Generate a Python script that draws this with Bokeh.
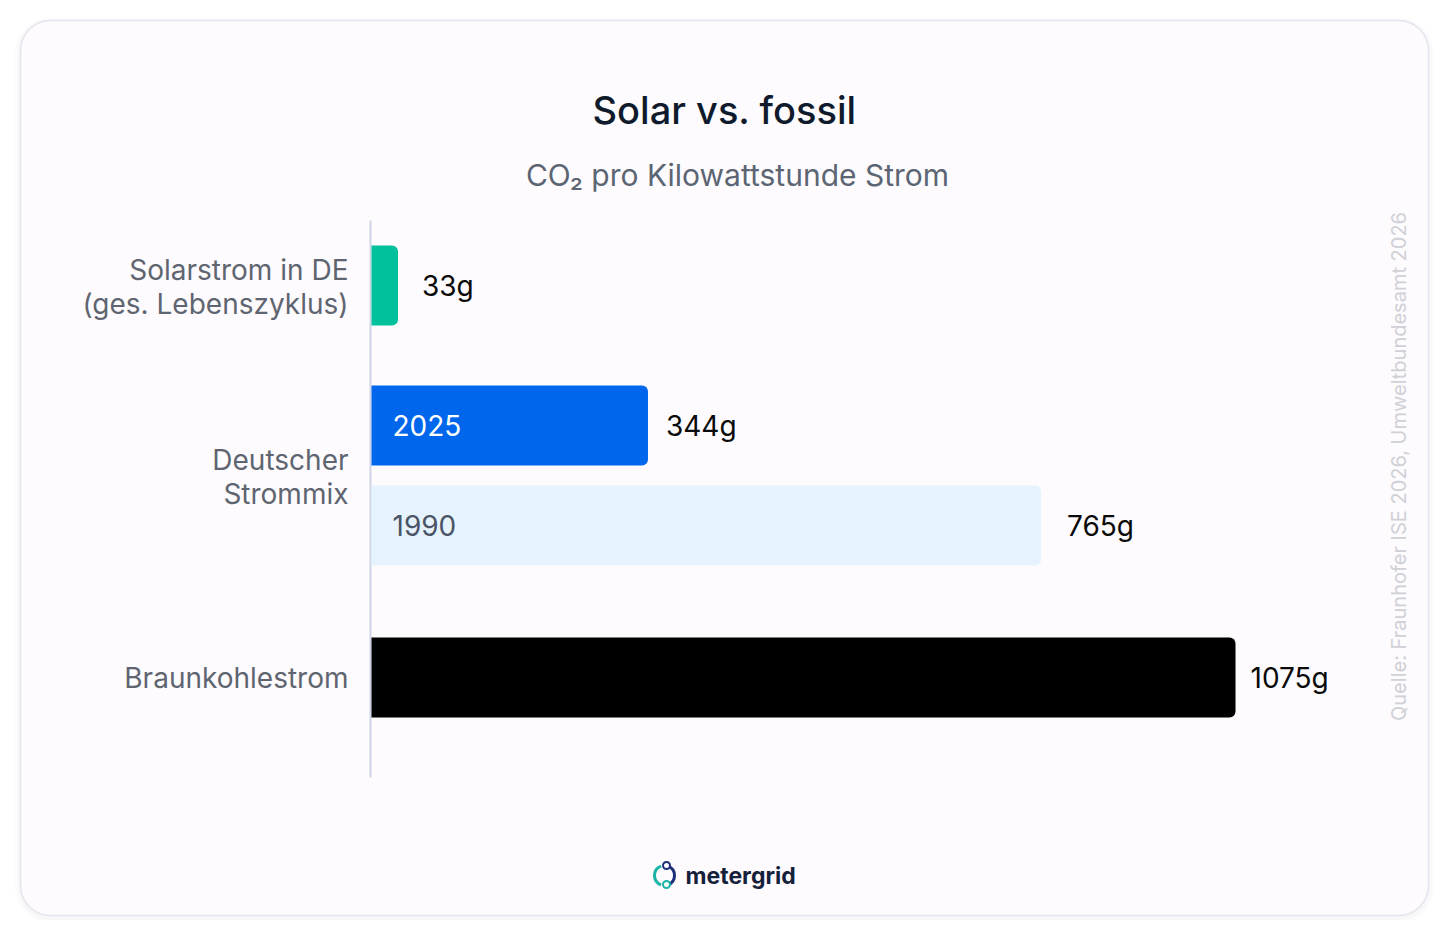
import math
from bokeh.plotting import figure
from bokeh.models import Range1d, ColumnDataSource
from bokeh.core.properties import value
from bokeh.embed import file_html
from bokeh.resources import INLINE

# ---------------- data ----------------
categories = ["Solarstrom in DE\n(ges. Lebenszyklus)", "Deutscher\nStrommix", "Braunkohlestrom"]
bar_names = ["Solarstrom", "2025", "1990", "Braunkohle"]
co2_values = [33, 344, 765, 1075]          # g CO2 per kWh (labels)
bar_lengths = [33, 344, 833, 1075]         # bar lengths as drawn in the picture
value_labels = ["33g", "344g", "765g", "1075g"]
inner_labels = ["", "2025", "1990", ""]
title = "Solar vs. fossil"
subtitle = "CO\u2082 pro Kilowattstunde Strom"
source_text = "Quelle: Fraunhofer ISE 2026, Umweltbundesamt 2026"
brand = "metergrid"

# ---------------- layout / style ----------------
W, H = 1433, 920
FONT = "Inter"
ZERO_PX = 371            # canvas x of value 0
PX_PER_G = 864 / 1075    # horizontal scale
ROW_Y = [285, 425, 525, 677]   # canvas y of bar centres
LABEL_GAP = [24, 18, 26, 15]   # px gap between bar end and value label
BAR_H = 80
bar_colors = ["#00c19b", "#0066eb", "#e6f3fe", "#000000"]
inner_colors = ["#ffffff", "#ffffff", "#4a5466", "#ffffff"]

x_start = -ZERO_PX / PX_PER_G
x_end = (W - ZERO_PX) / PX_PER_G

p = figure(width=W, height=H, x_range=Range1d(x_start, x_end), y_range=Range1d(H, 0),
           output_backend="svg", toolbar_location=None, min_border=0,
           x_axis_type=None, y_axis_type=None,
           background_fill_color="#ffffff", border_fill_color="#ffffff",
           outline_line_color=None)
p.grid.visible = False
p.extra_x_ranges = {"px": Range1d(0, W)}

# card shadow + card
for i, a in enumerate([0.025, 0.02, 0.015]):
    d = 2 * (i + 1)
    p.quad(left=20 - d, right=1428 + d, top=20 - d + 2, bottom=915 + d + 2,
           fill_color="#7a7090", fill_alpha=a, line_color=None,
           border_radius=30 + d, x_range_name="px")
p.quad(left=20, right=1428, top=20, bottom=915, fill_color="#fdfbfd",
       line_color="#e6e3ee", line_width=1.5, border_radius=30, x_range_name="px")

# titles
p.text(x=[724], y=[109], text=[title], text_font=value("'Inter Medium', Inter"),
       text_font_size="38px", text_color="#0f1b2d", text_align="center",
       text_baseline="middle", x_range_name="px")
p.text(x=[737], y=[174], text=[subtitle], text_font=value(FONT), text_font_size="30px",
       text_color="#5c6573", text_align="center", text_baseline="middle", x_range_name="px")

# axis line
p.segment(x0=[370], y0=[220], x1=[370], y1=[777], line_color="#cdd5e6", line_width=2,
          x_range_name="px")

# bars
src = ColumnDataSource(dict(y=ROW_Y, right=bar_lengths, left=[0] * 4, color=bar_colors,
                            vlab=value_labels, ilab=inner_labels, icol=inner_colors,
                            gap=LABEL_GAP))
p.hbar(y="y", left="left", right="right", height=BAR_H, fill_color="color",
       line_color=None, border_radius=(0, 6, 6, 0), source=src)
p.text(x="right", y="y", text="vlab", x_offset="gap", text_font=value(FONT),
       text_font_size="28px", text_color="#0a0a0a", text_baseline="middle", source=src)
p.text(x="left", y="y", text="ilab", x_offset=21, text_font=value(FONT),
       text_font_size="28px", text_color="icol", text_baseline="middle", source=src)

# category labels
cat_y = [ROW_Y[0] + 1, (ROW_Y[1] + ROW_Y[2]) / 2 + 1, ROW_Y[3]]
p.text(x=[348] * 3, y=cat_y, text=categories, text_font=value(FONT), text_font_size="28px",
       text_color="#5f6570", text_align="right", text_baseline="middle",
       text_line_height=1.0, x_range_name="px")

# source (vertical)
p.text(x=[1398], y=[466], text=[source_text], angle=math.pi / 2, text_font=value(FONT),
       text_font_size="20px", text_color="#d0d0d7", text_align="center",
       text_baseline="middle", x_range_name="px")

# brand logo
p.arc(x=[664], y=[875], radius=10, radius_units="screen", start_angle=math.radians(110),
      end_angle=math.radians(250), line_color="#19b4a6", line_width=3, x_range_name="px")
p.arc(x=[664], y=[875], radius=10, radius_units="screen", start_angle=math.radians(-70),
      end_angle=math.radians(70), line_color="#1c2f7a", line_width=3, x_range_name="px")
p.scatter(x=[666], y=[865], size=7, marker="circle", fill_color="#fdfbfd",
          line_color="#1c2f7a", line_width=2, x_range_name="px")
p.scatter(x=[666], y=[884], size=7, marker="circle", fill_color="#fdfbfd",
          line_color="#19b4a6", line_width=2, x_range_name="px")
p.text(x=[685], y=[875], text=[brand], text_font=value(FONT), text_font_size="23px",
       text_font_style="bold", text_color="#15213b", text_baseline="middle", x_range_name="px")

open("out.html", "w").write(file_html(p, INLINE))
